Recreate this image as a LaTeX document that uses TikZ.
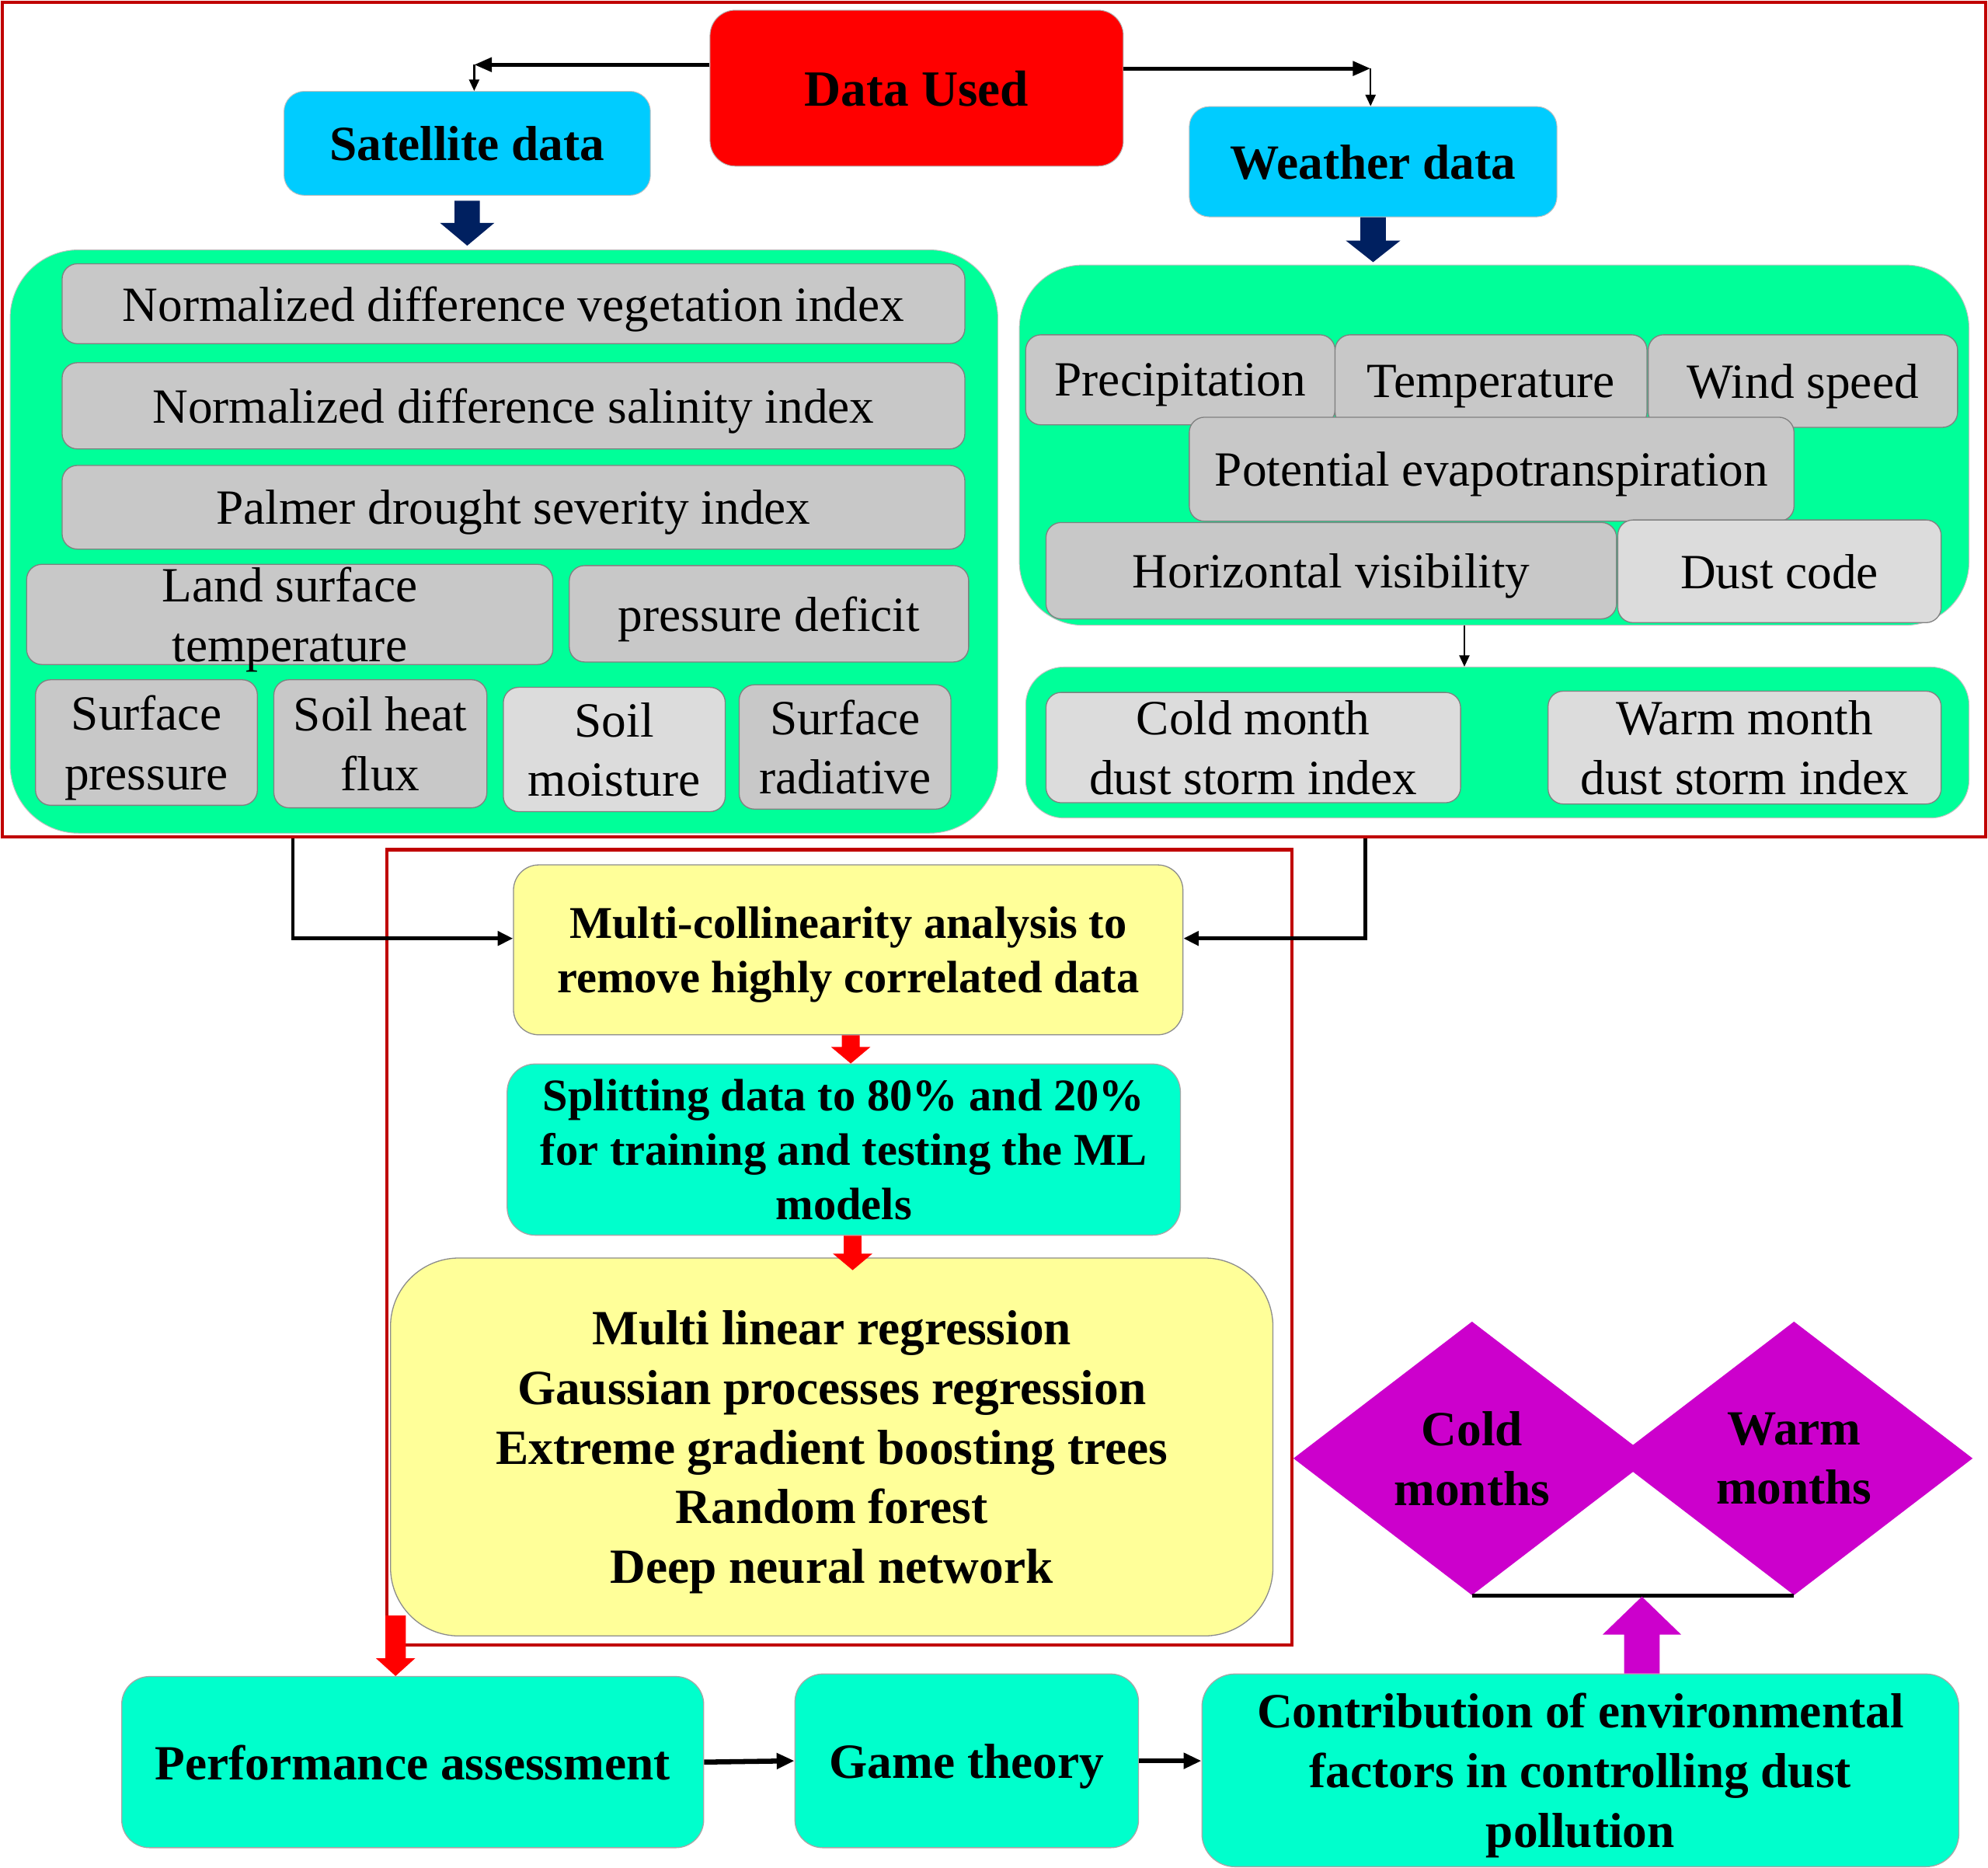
\documentclass[tikz,border=0pt]{standalone}
\usepackage{fontspec}
\setmainfont{Liberation Serif}
\usetikzlibrary{arrows.meta,shapes.geometric,calc}

\definecolor{dred}{HTML}{C00000}
\definecolor{cyanb}{HTML}{00CCFF}
\definecolor{sgreen}{HTML}{00FF99}
\definecolor{grayA}{HTML}{C8C8C8}
\definecolor{grayB}{HTML}{DCDCDC}
\definecolor{yel}{HTML}{FFFF99}
\definecolor{tealb}{HTML}{00FFCC}
\definecolor{mag}{HTML}{CC00CC}
\definecolor{navyb}{HTML}{002060}
\definecolor{redb}{HTML}{FF0000}

\newcommand\regf{\fontsize{19.4}{23.5}\selectfont}
\newcommand\bldf{\fontsize{19.4}{23.5}\selectfont\bfseries}
\newcommand\bldm{\fontsize{17.9}{21.5}\selectfont\bfseries}
\newcommand\bldl{\fontsize{20}{24}\selectfont\bfseries}

% box node from corner (x1,y1) to (x2,y2) in picture units (1 unit = 0.5pt)
\newcommand\bx[7]{%
  \node[#1, minimum width={(#5-#3)*0.5pt}, minimum height={(#6-#4)*0.5pt}]
    (#2) at ({(#3+#5)/2},{(#4+#6)/2}) {#7};}

% vertical block arrow: style, start, tip, shaft half width, head half width, head length, direction (1 down, -1 up)
\newcommand\blockarr[7]{%
  \fill[#1] let \p1=#2, \p2=#3 in
    ({\x1-#4},{\y1}) -- ({\x1+#4},{\y1}) -- ({\x1+#4},{\y2+(#7)*(#6)}) --
    ({\x1+#5},{\y2+(#7)*(#6)}) -- ({\x1},{\y2}) -- ({\x1-#5},{\y2+(#7)*(#6)}) --
    ({\x1-#4},{\y2+(#7)*(#6)}) -- cycle;}

\begin{document}
\begin{tikzpicture}[x=0.5pt,y=-0.5pt,
  every node/.style={inner sep=0pt, align=center, text depth=0pt},
  gbox/.style={fill=grayA, draw=black!50, line width=0.4pt, rounded corners=6pt, font=\regf},
  gboxl/.style={gbox, fill=grayB},
  grbox/.style={fill=sgreen, draw=black!25, line width=0.3pt},
  cybox/.style={fill=cyanb, draw=black!25, line width=0.3pt, rounded corners=8pt, font=\bldf},
  yebox/.style={fill=yel, draw=black!45, line width=0.4pt},
  tebox/.style={fill=tealb, draw=black!35, line width=0.4pt, rounded corners=11pt, font=\bldf},
  dubox/.style={fill=redb, draw=black!30, line width=0.3pt, rounded corners=10pt, font=\bldl},
  dmbox/.style={diamond, fill=mag, minimum width=141pt, minimum height=108pt, font=\bldf},
  frame/.style={draw=dred, line width=1.3pt},
  arrA/.style={line width=1.6pt, -{Triangle[length=7pt,width=5.5pt]}},
  arrB/.style={line width=0.75pt, -{Triangle[length=4.5pt,width=4pt]}},
  arrC/.style={line width=1.5pt, -{Triangle[length=6pt,width=5.5pt]}},
  arrD/.style={line width=2pt, -{Triangle[length=7pt,width=6pt]}},
]
\useasboundingbox (0,0) rectangle (1568,1473);
\fill[white] (0,0) rectangle (1568,1473);

% frames
\draw[frame] (2,2) rectangle (1566,660);
\draw[frame] (305,670) rectangle (1019,1297);

% top boxes
\bx{dubox}{du}{560}{8}{886}{131}{Data Used}
\bx{cybox}{sat}{224}{72}{513}{154}{Satellite data}
\bx{cybox}{weather}{938}{84}{1228}{171}{Weather data}

% green containers
\bx{grbox, rounded corners=27pt}{lgreen}{8}{197}{787}{657}{}
\bx{grbox, rounded corners=25pt}{rgreen}{804}{209}{1553}{493}{}
\bx{grbox, rounded corners=15pt}{rgreen2}{809}{526}{1553}{645}{}

% satellite items
\bx{gbox}{ndvi}{49}{208}{761}{271}{Normalized difference vegetation index}
\bx{gbox}{ndsi}{49}{286}{761}{354}{Normalized difference salinity index}
\bx{gbox}{pdsi}{49}{367}{761}{433}{Palmer drought severity index}
\bx{gbox}{lst}{21}{445}{436}{524}{Land surface\\temperature}
\bx{gbox}{pdef}{449}{446}{764}{522}{pressure deficit}
\bx{gbox}{sp}{28}{536}{203}{635}{Surface\\pressure}
\bx{gbox}{shf}{216}{536}{384}{637}{Soil heat\\flux}
\bx{gboxl}{sm}{397}{542}{572}{640}{Soil\\moisture}
\bx{gbox}{sr}{583}{540}{750}{638}{Surface\\radiative}

% weather items
\bx{gbox}{prec}{809}{264}{1053}{335}{Precipitation}
\bx{gbox}{temp}{1053}{264}{1299}{337}{Temperature}
\bx{gbox}{wind}{1300}{264}{1544}{337}{Wind speed}
\bx{gbox}{pet}{938}{329}{1415}{411}{Potential evapotranspiration}
\bx{gbox}{hv}{825}{412}{1275}{488}{Horizontal visibility}
\bx{gboxl}{dc}{1276}{410}{1531}{491}{Dust code}
\bx{gboxl}{cdsi}{825}{546}{1152}{633}{Cold month\\dust storm index}
\bx{gboxl}{wdsi}{1221}{545}{1531}{634}{Warm month\\dust storm index}

% middle flow
\bx{yebox, rounded corners=10pt, font=\bldm}{mc}{405}{682}{933}{816}{Multi-collinearity analysis to\\remove highly correlated data}
\bx{tebox, font=\bldm}{split}{400}{839}{931}{974}{Splitting data to 80\% and 20\%\\for training and testing the ML\\models}
\bx{yebox, rounded corners=27pt, font=\bldf}{models}{308}{992}{1004}{1290}{Multi linear regression\\Gaussian processes regression\\Extreme gradient boosting trees\\Random forest\\Deep neural network}

% bottom row
\bx{tebox}{perf}{96}{1322}{555}{1457}{Performance assessment}
\bx{tebox}{game}{627}{1320}{898}{1457}{Game theory}
\bx{tebox, rounded corners=13pt}{contrib}{948}{1320}{1545}{1472}{Contribution of environmental\\factors in controlling dust\\pollution}

% diamonds
\node[dmbox] (colddm) at (1161,1150) {Cold\\months};
\node[dmbox] (warmdm) at (1415,1150) {Warm\\months};

% connectors from Data Used
\coordinate (sl) at (374,51);
\coordinate (wr) at (1081,54);
\draw[arrA] (du.west |- sl) -- (sl);
\draw[arrB] (sl) -- (sl |- sat.north);
\draw[arrA] (du.east |- wr) -- (wr);
\draw[arrB] (wr) -- (wr |- weather.north);

% navy block arrows
\blockarr{navyb}{($(sat.south)+(0,4)$)}{($(sat.south |- lgreen.north)+(0,-3)$)}{5pt}{10.75pt}{9pt}{1}
\blockarr{navyb}{(weather.south)}{($(weather.south |- rgreen.north)+(0,-2)$)}{5pt}{10.75pt}{8.5pt}{1}

% weather -> dust storm index
\coordinate (dd) at (1155,493);
\draw[arrB] (dd) -- (dd |- rgreen2.north);

% to multi-collinearity
\coordinate (lc) at (231,661);
\coordinate (rc) at (1077,661);
\draw[arrC] (lc) |- ($(mc.west)+(0,-9)$);
\draw[arrC] (rc) |- ($(mc.east)+(0,-9)$);

% red block arrows
\blockarr{redb}{($(mc.south)+(2,0)$)}{($(mc.south |- split.north)+(2,0)$)}{3.5pt}{7.75pt}{6.5pt}{1}
\blockarr{redb}{($(split.south)+(7,0)$)}{($(split.south |- models.north)+(7,10)$)}{3.5pt}{7.75pt}{6.5pt}{1}
\coordinate (ra) at (312,1274);
\blockarr{redb}{(ra)}{(ra |- perf.north)}{4pt}{7.75pt}{7pt}{1}

% bottom arrows
\draw[arrD] (perf.east) -- (game.west);
\draw[arrD] (game.east) -- (game.east -| contrib.west);

% diamonds link and magenta arrow
\draw[line width=1.5pt] (colddm.south) -- (warmdm.south);
\coordinate (mm) at (1295,1259);
\blockarr{mag}{(contrib.north -| mm)}{(mm)}{7pt}{15.5pt}{15pt}{-1}
\end{tikzpicture}
\end{document}
